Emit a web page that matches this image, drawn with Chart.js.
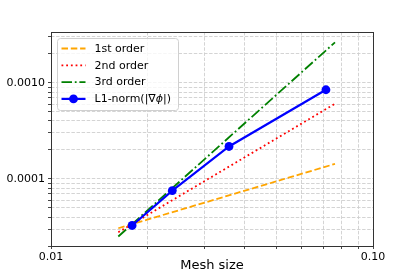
<!DOCTYPE html>
<html>
<head>
<meta charset="utf-8">
<script src="https://cdn.jsdelivr.net/npm/chart.js@4.4.1/dist/chart.umd.min.js"></script>
<style>
  html, body { margin: 0; padding: 0; background: #fff; }
  canvas { display: block; }
</style>
</head>
<body>
<canvas id="myChart" width="415" height="277"></canvas>
<script>
// measured error vs mesh size
const meshSize = [0.01786, 0.02381, 0.03571, 0.07143];
const l1Norm = [3.27e-5, 7.55e-5, 2.17e-4, 8.45e-4];

// reference slopes (end points)
const refX = [0.01618, 0.0762];
const firstOrder = [3.06e-5, 1.43e-4];
const secondOrder = [2.78e-5, 6.04e-4];
const thirdOrder = [2.51e-5, 2.63e-3];

const seriesLabels = ['1st order', '2nd order', '3rd order', 'L1-norm(|\u2207\u03d5|)'];

// axis ticks
const xTicks = [0.01, 0.02, 0.03, 0.04, 0.05, 0.06, 0.07, 0.08, 0.09, 0.1];
const xTickLabels = {0.01: '0.01', 0.1: '0.10'};
const yTicks = [2e-5, 3e-5, 4e-5, 5e-5, 6e-5, 7e-5, 8e-5, 9e-5,
                1e-4, 2e-4, 3e-4, 4e-4, 5e-4, 6e-4, 7e-4, 8e-4, 9e-4,
                1e-3, 2e-3, 3e-3];
const yTickLabels = {0.0001: '0.0001', 0.001: '0.0010'};

const FONT = "'DejaVu Sans', sans-serif";

function pts(xs, ys) {
    return xs.map((x, i) => ({x: x, y: ys[i]}));
}

const styles = [
    {color: 'orange', dash: [6.5, 2.8], width: 1.8},
    {color: 'red', dash: [1.8, 2.9], width: 1.8},
    {color: 'green', dash: [10.5, 2.8, 1.8, 2.8], width: 1.8},
    {color: 'blue', dash: [], width: 2.2, marker: 4.4}
];

// frame around the plot area
const frame = {
    id: 'frame',
    afterDraw(chart) {
        const {ctx, chartArea: a} = chart;
        ctx.save();
        ctx.strokeStyle = '#333';
        ctx.lineWidth = 1;
        ctx.strokeRect(Math.round(a.left) + 0.5, Math.round(a.top) + 0.5,
                       Math.round(a.right - a.left), Math.round(a.bottom - a.top));
        ctx.restore();
    }
};

// draw label text, with the greek letter in italic like mathtext
function drawLabel(ctx, text, x, y) {
    const parts = text.split(/(\u03d5)/);
    parts.forEach(p => {
        ctx.font = (p === '\u03d5' ? 'italic ' : '') + '11px ' + FONT;
        ctx.fillText(p, x, y);
        x += ctx.measureText(p).width;
    });
}

// matplotlib-like legend inside the plot, upper left
const boxLegend = {
    id: 'boxLegend',
    afterDatasetsDraw(chart) {
        const {ctx, chartArea: a} = chart;
        const x0 = a.left + 6.5, y0 = a.top + 6.5, w = 121, h = 72;
        ctx.save();
        ctx.beginPath();
        ctx.roundRect(x0, y0, w, h, 3);
        ctx.fillStyle = 'rgba(255,255,255,0.8)';
        ctx.fill();
        ctx.strokeStyle = '#d0d0d0';
        ctx.lineWidth = 1;
        ctx.stroke();
        ctx.textBaseline = 'middle';
        seriesLabels.forEach((lab, i) => {
            const s = styles[i];
            const cy = y0 + 10 + i * 16.8;
            ctx.beginPath();
            ctx.setLineDash(s.dash);
            ctx.strokeStyle = s.color;
            ctx.lineWidth = s.width;
            ctx.moveTo(x0 + 4, cy);
            ctx.lineTo(x0 + 28, cy);
            ctx.stroke();
            ctx.setLineDash([]);
            if (s.marker) {
                ctx.beginPath();
                ctx.arc(x0 + 16, cy, s.marker, 0, Math.PI * 2);
                ctx.fillStyle = s.color;
                ctx.fill();
            }
            ctx.fillStyle = '#000';
            drawLabel(ctx, lab, x0 + 37, cy + 0.5);
        });
        ctx.restore();
    }
};

const refSets = [firstOrder, secondOrder, thirdOrder].map((ys, i) => ({
    label: seriesLabels[i],
    data: pts(refX, ys),
    borderColor: styles[i].color,
    borderWidth: styles[i].width,
    borderDash: styles[i].dash,
    borderCapStyle: 'butt',
    pointRadius: 0,
    order: i + 1
}));

const gridOpts = {
    color: '#cfcfcf',
    lineWidth: 0.9,
    drawTicks: true,
    tickLength: 3,
    tickColor: '#333',
    tickBorderDash: []
};

new Chart(document.getElementById('myChart'), {
    type: 'line',
    data: {
        datasets: refSets.concat([{
            label: seriesLabels[3],
            data: pts(meshSize, l1Norm),
            borderColor: styles[3].color,
            backgroundColor: styles[3].color,
            borderWidth: styles[3].width,
            pointRadius: styles[3].marker,
            pointBorderWidth: 0,
            order: 0
        }])
    },
    options: {
        responsive: false,
        animation: false,
        layout: {padding: {left: 0, top: 32, right: 42, bottom: 0}},
        plugins: {
            legend: {display: false},
            tooltip: {enabled: false}
        },
        scales: {
            x: {
                type: 'logarithmic',
                min: 0.01,
                max: 0.1,
                afterBuildTicks: (s) => { s.ticks = xTicks.map(v => ({value: v})); },
                afterFit: (s) => { s.height = 31; },
                ticks: {
                    autoSkip: false,
                    maxRotation: 0,
                    padding: 2,
                    color: '#000',
                    font: {family: FONT, size: 11},
                    callback: (v) => xTickLabels[v] || ''
                },
                grid: gridOpts,
                border: {display: false, dash: [3.5, 1.6]},
                title: {
                    display: true,
                    text: 'Mesh size',
                    color: '#000',
                    font: {family: FONT, size: 13},
                    padding: {top: 0, bottom: 4}
                }
            },
            y: {
                type: 'logarithmic',
                min: 2.0e-5,
                max: 3.37e-3,
                afterBuildTicks: (s) => { s.ticks = yTicks.map(v => ({value: v})); },
                afterFit: (s) => { s.width = 51; },
                ticks: {
                    autoSkip: false,
                    padding: 3,
                    color: '#000',
                    font: {family: FONT, size: 11},
                    callback: (v) => yTickLabels[v] || ''
                },
                grid: gridOpts,
                border: {display: false, dash: [3.5, 1.6]}
            }
        }
    },
    plugins: [frame, boxLegend]
});
</script>
</body>
</html>
